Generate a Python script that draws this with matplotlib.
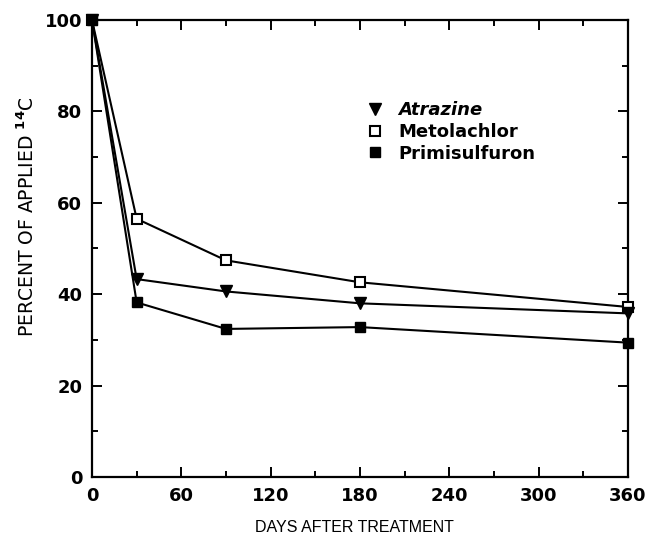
import matplotlib
matplotlib.use("Agg")
import matplotlib.pyplot as plt
from matplotlib.ticker import MultipleLocator

# days after treatment and percent of applied 14C remaining
days = [0, 30, 90, 180, 360]
atrazine = [100, 43.3, 40.6, 38.0, 35.8]
metolachlor = [100, 56.5, 47.4, 42.6, 37.2]
primisulfuron = [100, 38.2, 32.4, 32.8, 29.4]

plt.rcParams['font.family'] = ['DejaVu Sans']

fig = plt.figure(figsize=(6.46, 5.39), dpi=100)
ax = fig.add_axes([0.1424, 0.115, 0.8296, 0.848])

style = dict(color="black", lw=1.5, clip_on=False)
ax.plot(days, metolachlor, marker="s", ms=7, mfc="white", mec="black",
        mew=1.5, label="Metolachlor", zorder=3, **style)
ax.plot(days, atrazine, marker="v", ms=8, mfc="black", mec="black",
        label="Atrazine", zorder=4, **style)
ax.plot(days, primisulfuron, marker="s", ms=7, mfc="black", mec="black",
        label="Primisulfuron", zorder=5, **style)

ax.set_xlim(0, 360)
ax.set_ylim(0, 100)
ax.xaxis.set_major_locator(MultipleLocator(60))
ax.xaxis.set_minor_locator(MultipleLocator(30))
ax.yaxis.set_major_locator(MultipleLocator(20))
ax.yaxis.set_minor_locator(MultipleLocator(10))
ax.tick_params(which="both", direction="in", top=True, right=True, width=1.4)
ax.tick_params(which="major", length=7, labelsize=13, pad=7)
ax.tick_params(which="minor", length=4.5)
for lbl in ax.get_xticklabels() + ax.get_yticklabels():
    lbl.set_fontweight("bold")
for s in ax.spines.values():
    s.set_linewidth(1.6)

ax.set_xlabel("DAYS AFTER TREATMENT", fontsize=11.5, family="Liberation Sans")
ax.xaxis.set_label_coords(0.489, -0.093)
ax.set_ylabel(r"PERCENT OF APPLIED $^{\mathbf{14}}$C", fontsize=13.5)
ax.yaxis.set_label_coords(-0.1, 0.57)

handles, labels = ax.get_legend_handles_labels()
order = [1, 0, 2]
leg = ax.legend([handles[i] for i in order], [labels[i] for i in order],
                loc="center left", bbox_to_anchor=(0.528, 0.755), frameon=False,
                borderaxespad=0, borderpad=0, handlelength=0,
                handletextpad=1.3, labelspacing=0.2,
                prop={"size": 13, "weight": "bold"})
leg.get_texts()[0].set_style("italic")

fig.savefig("out.png", dpi=100)
